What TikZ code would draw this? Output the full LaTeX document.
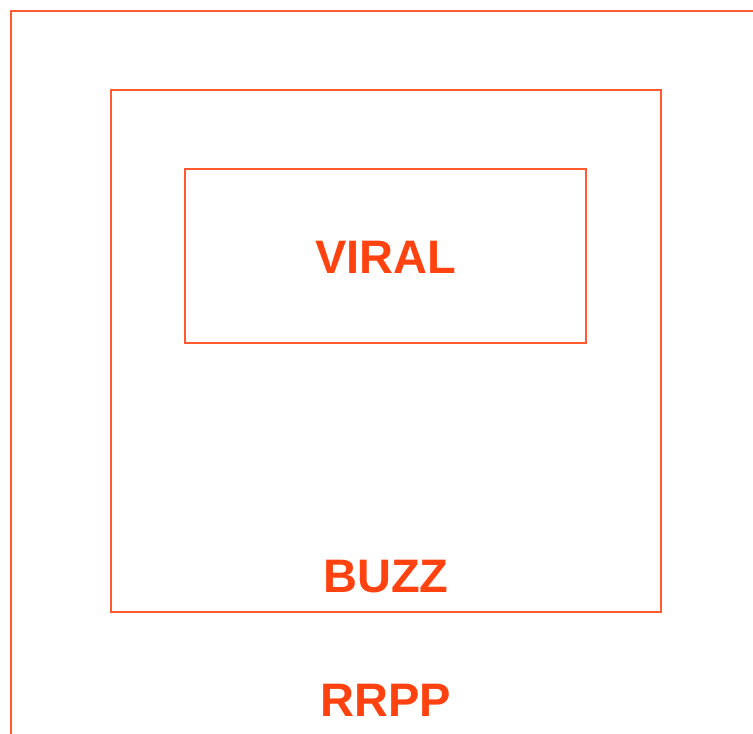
\documentclass[tikz,border=0pt]{standalone}
\usepackage{fontspec}
\setmainfont{Liberation Sans}
\definecolor{rrppline}{HTML}{FF5A30}
\definecolor{rrpptext}{HTML}{FF4210}
\tikzset{
	zone/.style={draw=rrppline,line width=2pt},
	label/.style={text=rrpptext,font=\fontsize{47}{50}\selectfont\bfseries,inner sep=0pt}
}
\begin{document}
\begin{tikzpicture}[x=1pt,y=-1pt]
	\useasboundingbox (0,0) rectangle (753,734);
	\begin{scope}
		\clip (0,0) rectangle (753,734);
		\draw[zone] (11,11) rectangle (780,760);
	\end{scope}
	\draw[zone] (111,90) rectangle (661,612);
	\draw[zone] (185,169) rectangle (586,343);
	\node[label] (viral) at (386,257) {VIRAL};
	\node[label] (buzz) at (386,577) {BUZZ};
	\node[label] (rrpp) at (386,700) {RRPP};
\end{tikzpicture}
\end{document}
